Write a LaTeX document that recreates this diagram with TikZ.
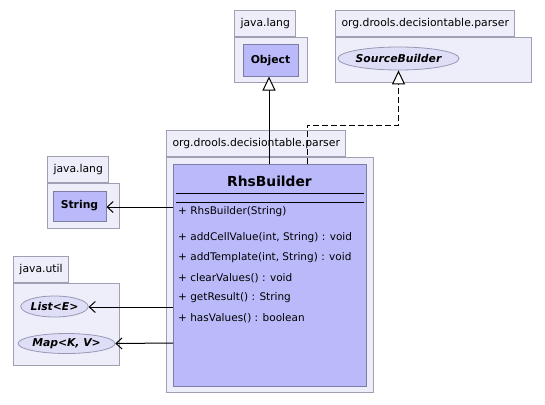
\documentclass[tikz,border=0pt]{standalone}
\usepackage{fontspec}
\setmainfont{DejaVu Sans}
\usetikzlibrary{shapes.geometric, arrows.meta, positioning}
\definecolor{pkgfill}{RGB}{238,238,250}
\definecolor{pkgline}{RGB}{160,160,180}
\definecolor{clsfill}{RGB}{186,186,250}
\definecolor{clsline}{RGB}{125,125,165}
\definecolor{ifcfill}{RGB}{222,222,246}
\begin{document}
\begin{tikzpicture}[
    x=1pt, y=-1pt,
    pkg/.style={draw=pkgline, fill=pkgfill, line width=1pt, anchor=north west, inner sep=0pt},
    pkgtab/.style={draw=pkgline, fill=pkgfill, line width=1pt, anchor=south west, minimum height=26pt, inner xsep=6pt, font=\fontsize{10.8}{12}\selectfont},
    cls/.style={draw=clsline, fill=clsfill, line width=1pt, inner sep=0pt},
    ifc/.style={ellipse, draw=clsline!80, fill=ifcfill, line width=0.8pt, inner sep=0pt, font=\fontsize{10.8}{12}\selectfont\bfseries\itshape},
    member/.style={anchor=west, inner sep=0pt, font=\fontsize{10.5}{12}\selectfont},
    extends/.style={-{Triangle[length=14pt, width=13pt, fill=white]}, line width=1pt},
    implements/.style={-{Triangle[length=14pt, width=13pt, fill=white]}, line width=1pt, dash pattern=on 6pt off 3pt},
    uses/.style={-{Straight Barb[length=6pt, width=11pt]}, line width=1pt},
]
\useasboundingbox (0,0) rectangle (545,404);
% packages
\node[pkg, minimum width=73pt, minimum height=45pt] (langtopbody) at (234,37) {};
\node[pkgtab] (langtoptab) at (langtopbody.north west) {java.lang};
\node[pkg, minimum width=196pt, minimum height=45pt] (partopbody) at (335,37) {};
\node[pkgtab] (partoptab) at (partopbody.north west) {org.drools.decisiontable.parser};
\node[pkg, minimum width=207pt, minimum height=235pt] (parbody) at (166,157) {};
\node[pkgtab] (partab) at (parbody.north west) {org.drools.decisiontable.parser};
\node[pkg, minimum width=72pt, minimum height=45pt] (langbody) at (47,183) {};
\node[pkgtab] (langtab) at (langbody.north west) {java.lang};
\node[pkg, minimum width=106pt, minimum height=82pt] (utilbody) at (13,283) {};
\node[pkgtab] (utiltab) at (utilbody.north west) {java.util};
% classes and interfaces
\node[cls, minimum width=55pt, minimum height=31pt, font=\fontsize{10.8}{12}\selectfont\bfseries] (obj) at (270.5,60.5) {Object};
\node[ifc, minimum width=109pt, minimum height=23pt] (src) at (398.5,58.5) {SourceBuilder};
\node[cls, minimum width=53pt, minimum height=30pt, font=\fontsize{10.8}{12}\selectfont\bfseries] (str) at (79.5,206) {String};
\node[ifc, minimum width=65pt, minimum height=21pt] (list) at (54.5,306.5) {List<E>};
\node[ifc, minimum width=89pt, minimum height=20pt] (map) at (66.5,343.5) {Map<K, V>};
\node[cls, minimum width=193pt, minimum height=222pt, anchor=north west] (rhs) at (173,164) {};
\node[font=\fontsize{13.8}{16}\selectfont\bfseries] (rhsname) at (269.5,181) {RhsBuilder};
\draw[line width=1pt] (176,193) -- (364,193);
\draw[line width=1pt] (176,202) -- (364,202);
\node[member] (ctor) at (178,212) {+ RhsBuilder(String)};
\node[member] (m1) at (178,238) {+ addCellValue(int, String) : void};
\node[member] (m2) at (178,258) {+ addTemplate(int, String) : void};
\node[member] (m3) at (178,278) {+ clearValues() : void};
\node[member] (m4) at (178,298) {+ getResult() : String};
\node[member] (m5) at (178,318) {+ hasValues() : boolean};
% connectors
\coordinate (bend) at (307,125);
\draw[extends] (rhs.north -| 269,0) -- (269,0 |- obj.south);
\draw[implements] (bend |- rhs.north) -- (bend) -| (src.south);
\draw[uses] (rhs.west |- 0,207) -- (str.east |- 0,207);
\draw[uses] (rhs.west |- 0,307) -- (list.east |- 0,307);
\draw[uses] (rhs.west |- 0,343) -- (map.east);
\end{tikzpicture}
\end{document}
